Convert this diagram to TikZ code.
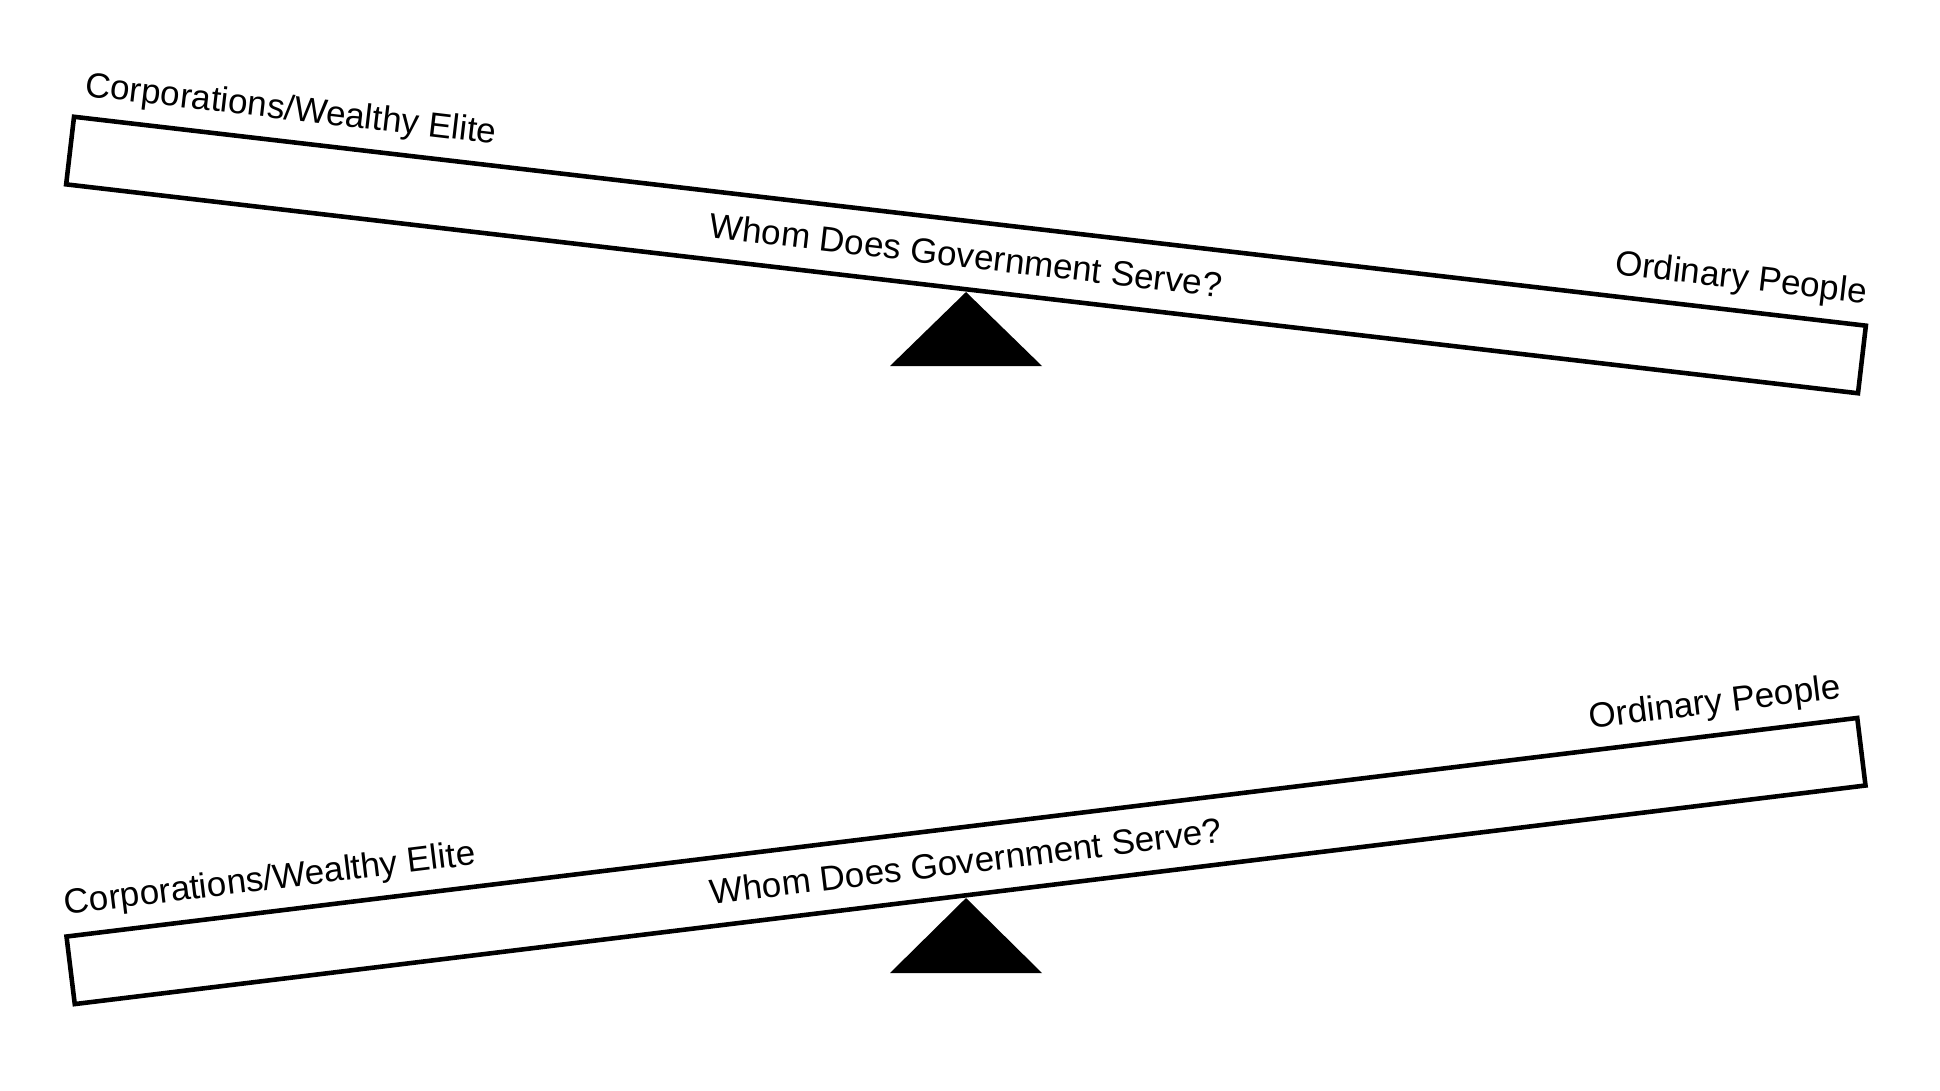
\documentclass[tikz,border=0pt]{standalone}
\usepackage{fontspec}
\setmainfont{Liberation Sans}
\begin{document}
\begin{tikzpicture}[x=0.01cm, y=-0.01cm,
		every node/.style={font=\fontsize{9.95}{12}\selectfont},
		beam/.style={draw, line width=1.3pt, fill=white, minimum width=18.03cm, minimum height=0.68cm, inner sep=0pt},
		side/.style={inner sep=0.33em}]

		\useasboundingbox (0,0) rectangle (1940,1090);

		% tipped down on the people side
		\coordinate (toppivot) at (966,292);
		\fill (toppivot) -- ++(76,74) -- ++(-152,0) -- cycle;
		\node[beam, rotate=-6.65] (topbeam) at (966,255) {Whom Does Government Serve?};
			\node[side, rotate=-6.65, anchor=south west, xshift=-0.02cm] (topelite) at (topbeam.north west) {Corporations/Wealthy Elite};
			\node[side, rotate=-6.65, anchor=south east, xshift=0.07cm] (toppeople) at (topbeam.north east) {Ordinary People};

		% tipped down on the elite side
		\coordinate (lowpivot) at (966,898);
		\fill (lowpivot) -- ++(76,75) -- ++(-152,0) -- cycle;
		\node[beam, rotate=6.96] (lowbeam) at (966,861) {Whom Does Government Serve?};
			\node[side, rotate=6.96, anchor=south west, xshift=-0.08cm] (lowelite) at (lowbeam.north west) {Corporations/Wealthy Elite};
			\node[side, rotate=6.96, anchor=south east, xshift=-0.03cm] (lowpeople) at (lowbeam.north east) {Ordinary People};

	\end{tikzpicture}
\end{document}
